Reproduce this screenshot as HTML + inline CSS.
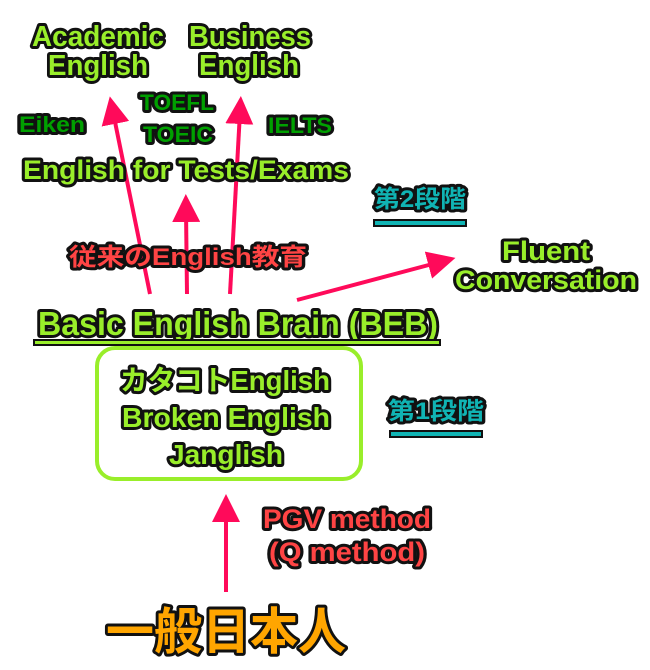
<!DOCTYPE html>
<html><head><meta charset="utf-8"><style>
html,body{margin:0;padding:0;background:#fff;}
svg{display:block}
text{font-family:"Liberation Sans","Noto Sans CJK JP",sans-serif;font-weight:bold;text-anchor:middle;stroke:#111;stroke-width:6;stroke-linejoin:round;paint-order:stroke;}
.g{fill:#99ee2a}
.d{fill:#00a000}
.r{fill:#ff4444}
.t{fill:#10b4b4}
.o{fill:#ffa500}
</style></head><body>
<svg width="650" height="670" viewBox="0 0 650 670">
<defs>
<marker id="a" markerWidth="7" markerHeight="7" refX="3" refY="3.5" orient="auto" markerUnits="strokeWidth"><path d="M0,0 L7,3.5 L0,7 Z" fill="#ff0a5a"/></marker>
</defs>
<g stroke="#ff0a5a" stroke-width="4" fill="none">
<line x1="150" y1="294" x2="113" y2="112" marker-end="url(#a)"/>
<line x1="187" y1="294" x2="186" y2="210" marker-end="url(#a)"/>
<line x1="230" y1="294" x2="240" y2="112" marker-end="url(#a)"/>
<line x1="297" y1="300" x2="440" y2="262" marker-end="url(#a)"/>
<line x1="226" y1="592" x2="226" y2="510" marker-end="url(#a)"/>
</g>
<rect x="97" y="348" width="264" height="131" rx="18" fill="none" stroke="#99ee2a" stroke-width="4"/>
<text class="g" x="98" y="46" font-size="29" textLength="132" lengthAdjust="spacingAndGlyphs">Academic</text>
<text class="g" x="98" y="75" font-size="29" textLength="100" lengthAdjust="spacingAndGlyphs">English</text>
<text class="g" x="250" y="46" font-size="29" textLength="122" lengthAdjust="spacingAndGlyphs">Business</text>
<text class="g" x="249" y="75" font-size="29" textLength="100" lengthAdjust="spacingAndGlyphs">English</text>
<text class="d" x="52" y="132" font-size="22" textLength="66" lengthAdjust="spacingAndGlyphs">Eiken</text>
<text class="d" x="177" y="110" font-size="22" textLength="74" lengthAdjust="spacingAndGlyphs">TOEFL</text>
<text class="d" x="178" y="142" font-size="22" textLength="70" lengthAdjust="spacingAndGlyphs">TOEIC</text>
<text class="d" x="300" y="133" font-size="22" textLength="64" lengthAdjust="spacingAndGlyphs">IELTS</text>
<text class="g" x="186" y="179" font-size="27" textLength="326" lengthAdjust="spacingAndGlyphs">English for Tests/Exams</text>
<text class="t" x="420" y="207" font-size="24" textLength="92" lengthAdjust="spacingAndGlyphs">第2段階</text>
<rect x="374" y="220" width="92" height="6" fill="#10b4b4" stroke="#111" stroke-width="2"/>
<text class="r" x="188" y="265" font-size="24" textLength="238" lengthAdjust="spacingAndGlyphs">従来のEnglish教育</text>
<text class="g" x="546" y="260" font-size="27" textLength="88" lengthAdjust="spacingAndGlyphs">Fluent</text>
<text class="g" x="546" y="289" font-size="27" textLength="182" lengthAdjust="spacingAndGlyphs">Conversation</text>
<text class="g" x="238" y="335" font-size="33" textLength="400" lengthAdjust="spacingAndGlyphs">Basic English Brain (BEB)</text>
<rect x="34" y="340" width="406" height="5" fill="#99ee2a" stroke="#111" stroke-width="2"/>
<text class="g" x="225" y="390" font-size="28" textLength="210" lengthAdjust="spacingAndGlyphs">カタコトEnglish</text>
<text class="g" x="226" y="427" font-size="28" textLength="208" lengthAdjust="spacingAndGlyphs">Broken English</text>
<text class="g" x="226" y="464" font-size="28" textLength="114" lengthAdjust="spacingAndGlyphs">Janglish</text>
<text class="t" x="436" y="419" font-size="24" textLength="96" lengthAdjust="spacingAndGlyphs">第1段階</text>
<rect x="390" y="431" width="92" height="6" fill="#10b4b4" stroke="#111" stroke-width="2"/>
<text class="r" x="347" y="528" font-size="27" textLength="168" lengthAdjust="spacingAndGlyphs">PGV method</text>
<text class="r" x="347" y="561" font-size="27" textLength="156" lengthAdjust="spacingAndGlyphs">(Q method)</text>
<text class="o" x="226" y="649" font-size="50" textLength="240" lengthAdjust="spacingAndGlyphs">一般日本人</text>
</svg>
</body></html>
